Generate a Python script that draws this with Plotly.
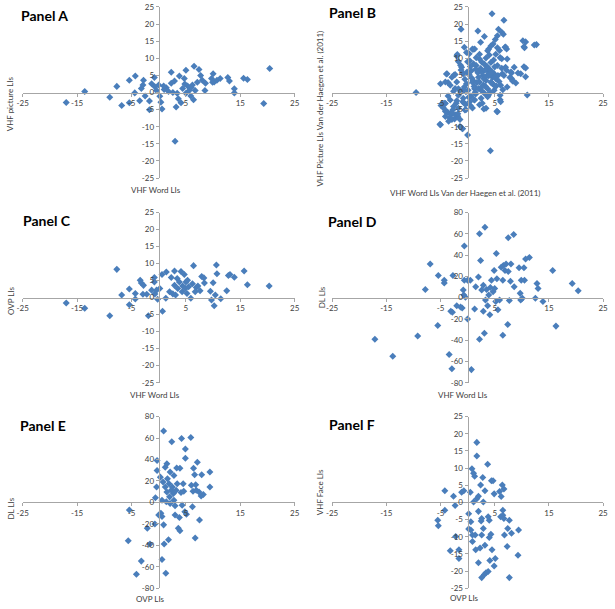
import plotly.graph_objects as go

# ---- data ----
# Panel A: VHF word LIs vs VHF picture LIs
a_x = [-17.0, -13.6, -9.0, -7.7, -6.8, -5.4, -5.4, -4.3, -4.4, -3.5, -3.2, -2.9, -2.8, -2.5,
       -1.7, -1.7, -1.3, -0.8, -0.7, -0.4, 0.0, 0.2, 0.4, 0.6, 1.4, 2.3, 2.3, 2.6, 2.9, 3.0,
       3.2, 3.4, 3.8, 4.1, 4.4, 4.7, 5.0, 5.0, 5.3, 5.6, 5.9, 6.2, 6.5, 6.4, 6.7, 7.1, 7.4,
       7.7, 8.0, 8.5, 8.6, 9.7, 10.0, 10.2, 10.7, 11.3, 12.7, 13.0, 13.9, 13.9, 15.6, 16.3,
       19.3, 20.4, 1.0, 1.8, 3.6, 4.8, 6.0, 9.9, 0.9]
a_y = [-2.9, 0.3, -1.4, 1.8, -3.8, 3.6, -3.0, 4.8, -0.1, -2.4, 1.2, 2.2, 3.6, -1.0,
       -2.5, -5.0, 2.6, 4.4, 1.7, 0.6, 2.2, -1.1, -2.8, -4.8, 1.4, 5.9, 2.7, 0.0, 3.4, -14.2,
       -4.2, -0.2, 4.8, -3.0, 1.2, 4.1, 6.5, -0.2, 1.9, 0.6, -1.0, 2.2, 7.7, -2.1, 0.6, 3.0, 6.7,
       5.0, 3.6, 0.6, 2.7, 4.1, 5.5, 3.1, 3.6, 4.1, 4.4, 3.4, 1.1, -0.1, 4.2, 3.8,
       -3.2, 7.0, 0.9, 0.3, -1.8, 2.5, 1.5, 3.0, 1.9]

# Panel B: VHF word vs VHF picture LIs, Van der Haegen et al. (2011)
b_x = [-9.5, -5.1, -4.9, -3.9, -3.6, -4.2, -4.1, -3.6, -3.3, -3.0, -2.7, -2.4, -2.1, -2.3,
       -1.9, -1.8, -2.5, -1.2, -1.0, -1.3, -0.6, -0.7, -0.6, -0.3, -0.1, 0.0, 0.3, 0.6, 0.9,
       1.2, 1.3, 1.9, 2.4, 2.7, 3.0, 3.1, 3.9, 4.2, 4.5, 4.7, 5.4, 5.5, 5.7, 5.9, 6.0, 6.3,
       6.3, 6.7, 6.9, 7.2, 7.2, 8.0, 8.1, 8.4, 9.3, 10.2, 10.4, 10.4, 10.7, 11.0, 12.7,
       6.6, 5.1, 4.3, 5.5, 7.0, 10.7, 10.5, 12.3, -2.0, -0.2, 1.0, 2.2, 3.7, 5.2, 6.0,
       -1.1, -1.7, 0.4, 1.6, 7.3, 7.0, 8.6, -3.8, -2.9, -2.3, -0.8, 0.7, 2.2, 3.7, 4.9,
       6.4, 8.1, 9.8, 10.7, 8.3, 8.9, -5.0, -4.1, -3.2, -2.0, -1.7, -0.2, 1.0, 2.2, 3.4,
       4.6, 6.1, 7.3, 4.6, 2.8, 1.6, 3.1, 4.3, 5.5, 0.1, 1.3, 2.5, 3.7, 4.9, 6.0, -1.7,
       -3.2, -4.1, -4.7, -0.8, 0.4, 1.3, 2.5, 3.7, 2.2, 3.4, 5.5, 6.1, -2.6, -1.7, -0.5,
       -3.8, -4.1, -2.9, -3.5, -2.3, -1.4, -5.0, -1.4, -0.9,
       0.8, 1.9, 3.0, 4.0, 2.6, 1.2, 2.9, 4.3, 5.2, 0.5, 3.4, 4.8, 6.3, 5.8, 1.5, 3.1,
       4.2, -0.5, -1.2, 0.0, 2.2, 4.0, 6.7, 7.8, 3.6, 1.1, -0.3, 0.6, 5.0, 6.5, 2.0, 3.9,
       -2.6, -3.6, -2.0, -0.4, 0.9, -4.4, -3.0, -1.8,
       0.3, 1.5, 2.7, 3.5, 4.5, 5.6, 0.9, 2.0, 3.2, 4.1, 5.0, 1.7, 2.4, 3.3, 4.4, -0.6,
       0.2, 1.4, 2.6, 3.8, 5.3, -1.4, -0.9, 0.5]
b_y = [0.0, -9.3, -3.8, 5.4, 2.9, -3.1, -5.5, -5.9, -7.4, -6.4, -5.0, -7.7, -3.1, 1.2,
       11.1, -6.9, 5.1, 18.5, -10.5, 8.0, 13.2, 0.8, -3.1, -5.0, 6.0, -12.4, 11.3, -1.1, 12.7,
       -2.1, 12.7, 18.0, 14.7, -3.1, -4.8, 16.4, 12.7, -17.0, 23.0, 14.2, -5.5, 16.6, 18.5, 12.3, -2.1, 9.9,
       17.6, 21.1, 13.2, 12.7, 6.5, 6.0, 4.1, 3.4, 5.7, 15.1, 13.4, 7.5, 4.6, -0.7, 14.0,
       17.0, 15.5, 13.6, 13.1, 13.3, 14.8, 13.1, 13.9, 10.7, 11.7, 12.6, 11.2, 12.2, 11.2, 10.2,
       7.4, 9.1, 9.3, 10.2, 9.8, 7.4, 7.4, 5.5, 4.5, 5.3, 5.5, 6.4, 6.4, 6.4, 5.5,
       5.5, 5.7, 5.5, 7.2, 3.4, 2.8, 2.6, 3.1, 2.1, 3.1, 1.1, 2.6, 3.5, 3.1, 3.5,
       2.6, 2.1, 1.6, 4.5, 5.0, 7.9, 8.3, 8.8, 7.9, 0.7, 1.1, 0.7, 1.1, 0.7, -0.8, -0.8,
       -2.2, -3.2, -3.2, -1.7, -2.7, -2.2, -1.7, -1.2, -3.6, -4.6, -5.6, -2.7, -4.1, -4.6, -5.1,
       -5.6, -7.0, -7.9, -8.4, -6.5, -7.9, -9.4, -9.9, -10.6,
       4.2, 5.8, 4.0, 6.9, 8.9, 1.8, 2.2, 3.0, 4.0, 7.6, 10.1, 9.5, 7.1, 3.2, -0.4, -0.2,
       0.0, 3.9, 6.6, 9.0, 9.8, 11.0, 5.0, 4.4, 7.6, 8.4, 0.2, -1.0, 2.0, 0.8, 1.2, 4.9,
       0.4, -1.0, -2.4, -3.4, -4.5, -4.6, -5.8, -6.2,
       5.2, 6.8, 5.9, 4.8, 6.1, 5.0, 3.0, 4.5, 6.6, 5.4, 7.5, 2.9, 7.0, 1.8, 2.9, 1.6,
       -1.4, 0.1, 1.6, -0.9, 1.9, 0.6, -2.7, -3.8]

# Panel C: VHF word LIs vs OVP LIs
c_x = [-17.0, -13.6, -9.0, -7.7, -6.8, -5.4, -5.4, -4.3, -4.3, -3.4, -3.2, -2.9, -2.8, -2.2,
       -1.9, -1.3, -0.8, -0.8, -0.7, -0.4, -0.2, 0.2, 0.6, 0.7, 1.3, 1.4, 2.0, 2.3, 2.6, 2.9,
       2.9, 3.1, 3.4, 3.5, 3.8, 4.1, 4.3, 4.4, 4.7, 4.9, 5.0, 5.2, 5.3, 5.5, 5.9, 6.2, 6.4,
       6.7, 6.9, 7.2, 7.6, 7.9, 8.3, 8.4, 9.5, 9.7, 10.0, 10.2, 10.4, 10.6, 10.7, 11.4, 12.5,
       12.8, 13.1, 13.9, 15.7, 16.3, 20.3]
c_y = [-1.6, -3.1, -5.3, 8.3, 0.8, 2.5, -2.1, 1.2, -0.4, 5.1, 4.3, 1.0, 3.6, 1.0,
       -5.3, 2.2, 5.9, 4.6, 1.1, 2.2, -0.5, 2.7, 6.8, -4.0, -0.2, 7.5, 1.7, 5.9, 1.1, 7.8,
       3.6, 0.8, 5.6, 2.7, 4.6, 7.7, 1.7, 3.4, 6.8, 2.7, 4.6, 1.2, 5.1, 3.2, -0.2, 4.1, 9.4,
       1.7, 3.0, 3.4, 2.0, 6.2, 5.8, 4.3, 1.9, -0.7, 4.4, -2.4, 0.8, 9.6, 7.0, -0.3, 2.0,
       6.5, 6.8, 6.0, 7.8, 3.8, 3.4]

# Panel D: VHF word LIs vs DL LIs
d_x = [-17.1, -13.8, -9.2, -7.8, -6.9, -5.5, -5.4, -4.3, -4.3, -3.4, -3.1, -2.9, -2.8, -2.7,
       -2.0, -1.3, -1.0, -0.8, -0.7, -0.6, -0.6, -0.4, 0.0, 0.0, 0.5, 0.7, 1.3, 1.5, 2.0, 2.2,
       2.2, 2.4, 2.6, 2.9, 2.9, 3.1, 3.2, 3.3, 3.5, 3.7, 3.9, 4.1, 4.2, 4.4, 4.7, 4.9, 5.0,
       5.2, 5.3, 5.4, 5.6, 5.9, 6.2, 6.5, 6.5, 6.6, 6.9, 7.1, 7.4, 7.5, 7.5, 7.7, 7.9, 8.0,
       8.5, 8.6, 9.5, 9.7, 9.8, 9.9, 10.1, 10.4, 10.5, 10.7, 11.4, 12.5, 12.8, 13.0, 13.9,
       15.7, 16.3, 19.3, 20.4]
d_y = [-39.1, -55.1, -36.0, 7.7, 31.7, -26.2, 20.9, 13.8, 16.3, -53.5, -12.9, -66.8, -13.8, 20.9,
       -7.7, -8.9, -9.8, 7.1, 2.5, 48.6, 16.3, 0.3, 16.3, -20.0, 16.3, -67.7, -10.8, 10.2, 19.4, 60.0,
       -39.1, 34.8, 7.1, 11.7, -12.9, -33.5, 66.2, -2.2, 7.7, -7.7, 2.5, -16.0, 9.5, 16.3, 5.5, 25.5, 8.6,
       -3.7, 41.5, 17.8, -11.4, -2.2, 28.6, 16.3, -35.4, 30.2, 25.5, 31.7, -25.2, 56.3, 24.6, -2.8, 15.4, 31.7,
       59.4, 10.2, 28.0, 4.0, -2.2, 16.3, -0.6, 28.0, 16.3, 36.3, 37.8, -0.6, 13.2, 8.6, -3.7,
       25.5, -26.8, 13.2, 6.5]

# Panel E: OVP LIs vs DL LIs
e_x = [-5.4, -5.6, -4.1, -3.2, -2.1, -1.6, -0.7, -0.6, -0.4, -0.3, -0.3, 0.0, 0.3, 0.4, 0.6,
       0.6, 0.6, 0.8, 0.9, 0.9, 1.0, 1.2, 1.2, 1.3, 1.4, 1.5, 1.5, 1.6, 1.8, 1.9, 2.0, 2.1,
       2.1, 2.3, 2.4, 2.5, 2.7, 2.8, 2.8, 3.0, 3.0, 3.2, 3.3, 3.4, 3.6, 3.8, 3.9, 3.9, 4.1,
       4.2, 4.3, 4.5, 4.6, 4.8, 4.9, 4.9, 5.1, 5.9, 6.0, 6.2, 6.3, 6.4, 6.6, 6.7, 6.8, 6.9,
       7.1, 7.4, 7.5, 7.8, 7.9, 8.2, 9.4, 9.4]
e_y = [-7.1, -35.6, -67.0, -54.7, -24.0, -38.7, -20.0, 4.3, 14.4, 39.0, 29.8, -11.7, 23.6, -10.1, -13.2,
       2.1, -53.1, 19.0, 66.6, -20.9, -38.7, 32.9, 14.4, -66.0, 0.6, 36.0, 9.8, 22.1, -34.7, 17.5, 5.2, -0.9,
       28.3, 11.4, 56.5, 14.4, 8.3, 2.1, 25.2, -3.1, -11.7, 11.4, 32.2, 17.5, -24.0, -14.1, 31.9, -26.4, 9.2,
       59.6, -2.5, 17.5, 10.4, -8.6, 49.8, 41.2, -11.1, 60.5, 16.0, -4.0, 10.4, 31.9, 25.8, -33.2, 16.6, 11.4,
       37.5, 9.8, -16.3, 6.1, 25.8, 7.4, 28.3, 14.4]

# Panel F: OVP LIs vs VHF face LIs
f_x = [-5.5, -5.4, -4.2, -4.2, -3.2, -1.6, -2.6, -2.3, -2.2, -1.6, -1.1, -0.7, 0.2, 0.2, 0.5,
       0.6, 0.6, 0.8, 0.9, 0.9, 1.1, 1.1, 1.3, 1.4, 1.5, 1.7, 1.7, 1.7, 2.0, 2.0, 2.0, 2.3,
       2.4, 2.5, 2.6, 2.6, 2.6, 2.8, 2.9, 2.9, 3.1, 3.2, 3.2, 3.4, 3.7, 3.8, 3.8, 4.0, 4.0,
       4.1, 4.3, 4.4, 4.5, 4.7, 4.9, 4.9, 5.1, 5.9, 6.1, 6.2, 6.4, 6.5, 6.5, 6.7, 6.7, 6.8,
       7.3, 7.4, 7.7, 7.7, 8.1, 9.4, 9.3]
f_y = [-5.2, -6.8, 3.4, -2.3, -14.1, -16.3, 1.8, -0.9, -9.9, -13.8, 3.0, 3.4, -3.3, -7.7, 3.0,
       -5.6, -8.0, 9.8, -9.5, -11.4, 8.5, 0.1, 7.6, -9.5, -13.8, 17.5, 13.5, 1.1, 1.8, -2.6, -17.6, -13.3,
       5.1, -5.4, -4.7, -9.5, -21.9, 7.3, 0.1, -7.6, -21.0, -12.5, 3.4, -20.5, 11.1, -4.2, -20.1, -5.2, -10.2,
       -16.9, -9.3, 6.3, -13.8, 6.3, 2.5, -18.5, -16.3, 3.2, -4.2, 1.7, 5.1, -2.3, -3.7, 3.9, -4.7, -9.5,
       -12.8, -7.6, -5.2, -21.9, -9.0, -8.0, -15.4]

panels = ["Panel A", "Panel B", "Panel C", "Panel D", "Panel E", "Panel F"]
x_titles = ["VHF Word LIs", "VHF Word LIs Van der Haegen et al. (2011)", "VHF Word LIs",
            "VHF Word LIs", "OVP LIs", "OVP LIs"]
y_titles = ["VHF picture LIs", "VHF Picture LIs Van der Haegen et al. (2011)", "OVP LIs",
            "DL LIs", "DL LIs", "VHF Face LIs"]

x_ticks = [-25, -15, -5, 5, 15, 25]
x_ticktext = ["-25", "-15", "-5", "5", "15", "25"]
y_ticks_25 = [-25, -20, -15, -10, -5, 0, 5, 10, 15, 20, 25]
y_ticktext_25 = ["-25", "-20", "-15", "-10", "-5", "0", "5", "10", "15", "20", "25"]
y_ticks_80 = [-80, -60, -40, -20, 0, 20, 40, 60, 80]
y_ticktext_80 = ["-80", "-60", "-40", "-20", "0", "20", "40", "60", "80"]

W, H = 615, 609
BLUE = "#4A7EBB"
AXIS = "#A6A6A6"
FONT = "Lato, 'Open Sans', sans-serif"

def px_x(v): return v / W
def px_y(v): return 1 - v / H

# plot area boxes in pixels: (left, right, top, bottom)
boxes = [(17, 294, 2, 176), (332, 608, 2, 176),
         (17, 294, 211, 384), (332, 608, 211, 384),
         (17, 294, 418.5, 593), (332, 608, 418.5, 593)]
title_pos = [(13, 11), (327, 8), (15, 219), (326, 220), (12, 428), (327, 426)]
xt_pos = [(153, 188), (467, 191), (152, 397), (465, 397), (147, 604), (467, 603)]
yt_pos = [(4, 100), (320, 105), (5, 300), (322, 297), (5, 512), (320, 495)]

data = [(a_x, a_y), (b_x, b_y), (c_x, c_y), (d_x, d_y), (e_x, e_y), (f_x, f_y)]
big_y = [False, False, False, True, True, False]

fig = go.Figure()
layout = {}
annotations = []
for i, (xs, ys) in enumerate(data):
	n = i + 1
	sfx = "" if n == 1 else str(n)
	fig.add_trace(go.Scatter(x=xs, y=ys, mode="markers", xaxis="x" + sfx, yaxis="y" + sfx,
							 marker=dict(symbol="diamond", size=5.4, color=BLUE, line=dict(width=0)),
							 hoverinfo="x+y"))
	l, r, t, b = boxes[i]
	xd = [px_x(l), px_x(r)]
	yd = [px_y(b), px_y(t)]
	common = dict(showgrid=False, zeroline=False, showline=True, linecolor=AXIS, linewidth=1,
				  ticks="outside", ticklen=3, tickcolor=AXIS, tickwidth=1,
				  ticklabeloverflow="allow",
				  tickfont=dict(family=FONT, size=8, color="#404040"), fixedrange=True)
	layout["xaxis" + sfx] = dict(common, domain=xd, range=[-25, 25], anchor="free",
								 position=(yd[0] + yd[1]) / 2, tickmode="array",
								 tickvals=x_ticks, ticktext=x_ticktext)
	if big_y[i]:
		yr, yv, ytx = [-80, 80], y_ticks_80, y_ticktext_80
	else:
		yr, yv, ytx = [-25, 25], y_ticks_25, y_ticktext_25
	layout["yaxis" + sfx] = dict(common, domain=yd, range=yr, anchor="free",
								 position=(xd[0] + xd[1]) / 2, tickmode="array",
								 tickvals=yv, ticktext=ytx)
	# panel title
	tx, ty = title_pos[i]
	annotations.append(dict(text="<b>" + panels[i] + "</b>", x=px_x(tx), y=px_y(ty),
							xref="paper", yref="paper", xanchor="left", yanchor="middle",
							showarrow=False, font=dict(family=FONT, size=14, color="#000000")))
	# axis titles
	ax, ay = xt_pos[i]
	annotations.append(dict(text=x_titles[i], x=px_x(ax), y=px_y(ay), xref="paper", yref="paper",
							xanchor="center", yanchor="middle", showarrow=False,
							font=dict(family=FONT, size=8, color="#404040")))
	bx, by = yt_pos[i]
	annotations.append(dict(text=y_titles[i], x=px_x(bx), y=px_y(by), xref="paper", yref="paper",
							xanchor="center", yanchor="middle", textangle=-90, showarrow=False,
							font=dict(family=FONT, size=8, color="#404040")))

fig.update_layout(**layout)
fig.update_layout(width=W, height=H, margin=dict(l=0, r=0, t=0, b=0),
				  paper_bgcolor="white", plot_bgcolor="white", showlegend=False,
				  annotations=annotations)

# page body margin would push the 615x609 figure out of the window
fig.write_html("out.html", config={"displayModeBar": False},
			   post_script="document.body.style.margin='0';")
